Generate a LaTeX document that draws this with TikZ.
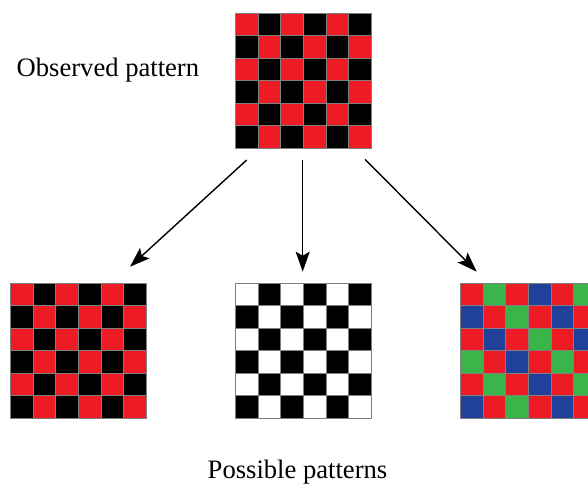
\documentclass[tikz,border=0pt]{standalone}
\usepackage{fontspec}
\setmainfont{Liberation Serif}
\usetikzlibrary{arrows.meta}
\definecolor{cR}{RGB}{237,28,36}
\definecolor{cK}{RGB}{0,0,0}
\definecolor{cW}{RGB}{255,255,255}
\definecolor{cG}{RGB}{57,181,74}
\definecolor{cB}{RGB}{33,64,154}
\newcommand\drawgrid[3]{%
  \foreach \row [count=\i from 0] in {#3}{%
    \foreach \c [count=\j from 0] in \row {%
      \filldraw[fill=\c, cellline] (#1+\j*22.667, #2+\i*22.5) rectangle ++(22.667,22.5);
    }}%
}
\begin{document}
\begin{tikzpicture}[x=1pt,y=-1pt,
  cellline/.style={draw=black!50, line width=0.3pt},
  gridbox/.style={minimum width=136pt, minimum height=135pt, inner sep=0pt, anchor=north west},
  arr/.style={line width=1.4pt, -{Stealth[length=20pt,width=14pt,inset=4pt]}},
  lbl/.style={font=\fontsize{26.6}{30}\selectfont, inner sep=0pt}]
\clip (0,0) rectangle (588,484);
\fill[white] (0,0) rectangle (588,484);

% observed pattern
\drawgrid{235}{13}{{cR,cK,cR,cK,cR,cK},{cK,cR,cK,cR,cK,cR},{cR,cK,cR,cK,cR,cK},{cK,cR,cK,cR,cK,cR},{cR,cK,cR,cK,cR,cK},{cK,cR,cK,cR,cK,cR}}
\node[gridbox] (obs) at (235,13) {};

% possible patterns
\drawgrid{10}{283}{{cR,cK,cR,cK,cR,cK},{cK,cR,cK,cR,cK,cR},{cR,cK,cR,cK,cR,cK},{cK,cR,cK,cR,cK,cR},{cR,cK,cR,cK,cR,cK},{cK,cR,cK,cR,cK,cR}}
\node[gridbox] (pl) at (10,283) {};
\drawgrid{235}{283}{{cW,cK,cW,cK,cW,cK},{cK,cW,cK,cW,cK,cW},{cW,cK,cW,cK,cW,cK},{cK,cW,cK,cW,cK,cW},{cW,cK,cW,cK,cW,cK},{cK,cW,cK,cW,cK,cW}}
\node[gridbox] (pm) at (235,283) {};
\drawgrid{460}{283}{{cR,cG,cR,cB,cR,cG},{cB,cR,cG,cR,cB,cR},{cR,cB,cR,cG,cR,cB},{cG,cR,cB,cR,cG,cR},{cR,cG,cR,cB,cR,cG},{cB,cR,cG,cR,cB,cR}}
\node[gridbox] (pr) at (460,283) {};

% arrows
\coordinate (s1) at (246.7,160);
\coordinate (e1) at (130,266.7);
\coordinate (s2) at (302.7,160);
\coordinate (e2) at (302.7,271.7);
\coordinate (s3) at (365,159.3);
\coordinate (e3) at (476.7,271.7);
\draw[arr] (s1) -- (e1);
\draw[arr] (s2) -- (e2);
\draw[arr] (s3) -- (e3);

% labels
\node[lbl, anchor=base west] (tobs) at (16.5,76.7) {Observed pattern};
\node[lbl, anchor=base] (tpos) at (297.5,478) {Possible patterns};
\end{tikzpicture}
\end{document}
